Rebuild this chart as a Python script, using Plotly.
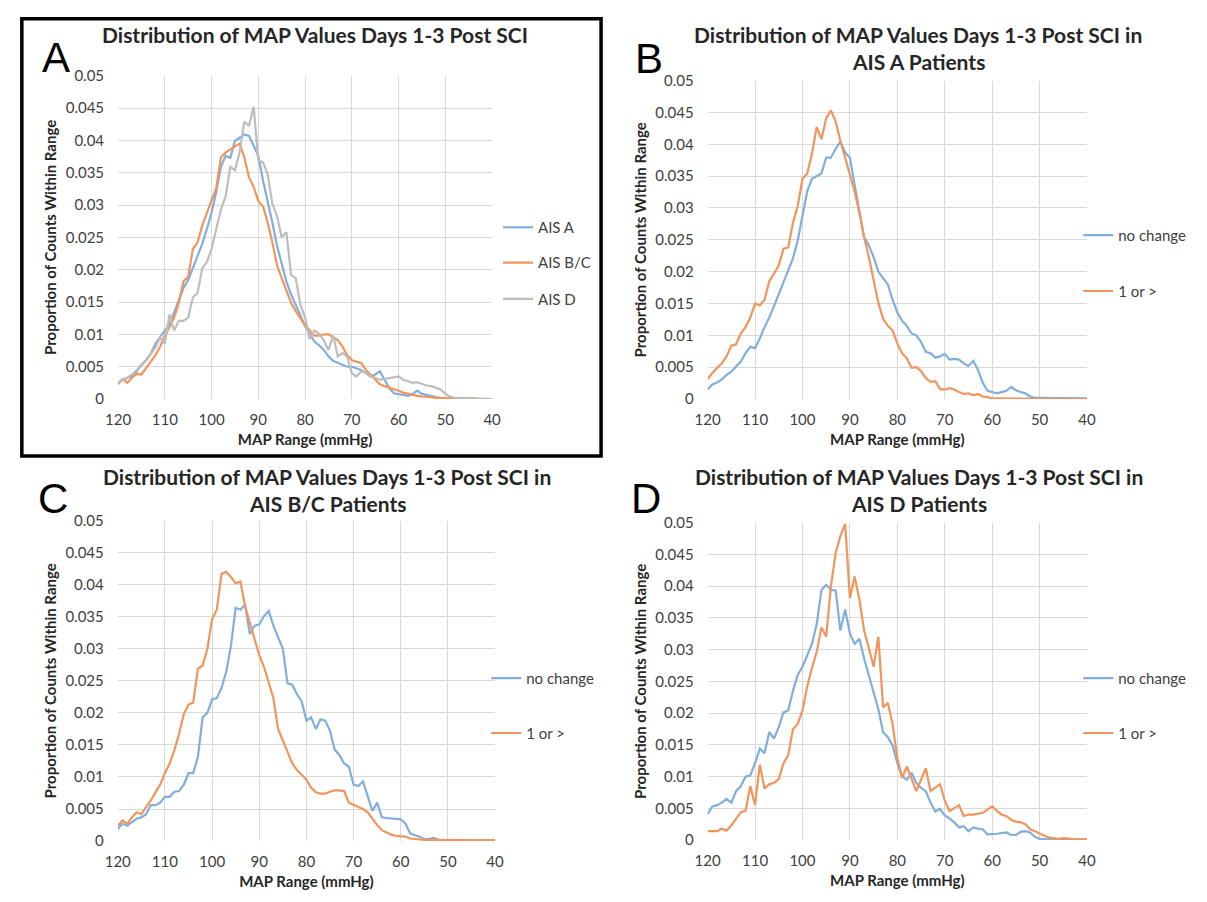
import plotly.graph_objects as go

# ---------------- data (MAP value from 120 down to 40 mmHg, 1 mmHg bins) ----------------
MAP_RANGE = list(range(120, 39, -1))

A_AIS_A = [0.0025, 0.003, 0.0033, 0.0035, 0.0043, 0.0053, 0.006, 0.007, 0.0086, 0.0096,
           0.0106, 0.0116, 0.0134, 0.0154, 0.0172, 0.0184, 0.0202, 0.022, 0.024, 0.0263,
           0.0288, 0.032, 0.0359, 0.0376, 0.0373, 0.0399, 0.0404, 0.0409, 0.0407, 0.0391,
           0.0376, 0.0338, 0.0308, 0.0273, 0.0237, 0.0207, 0.0182, 0.0162, 0.0146, 0.0129,
           0.0113, 0.0101, 0.0089, 0.0083, 0.0076, 0.0066, 0.0059, 0.0056, 0.0053, 0.005,
           0.005, 0.0048, 0.0045, 0.004, 0.0035, 0.0038, 0.0043, 0.003, 0.0017, 0.0009,
           0.0008, 0.0006, 0.0005, 0.0008, 0.0013, 0.0008, 0.0006, 0.0004, 0.0003, 0.0002,
           0.0001, 0.0001, 0.0001, 0.0001, 0.0001, 0.0001, 0.0001, 0.0, 0.0, 0.0, 0.0]
A_AIS_BC = [0.0023, 0.0031, 0.0025, 0.0033, 0.0039, 0.0038, 0.0048, 0.0058, 0.0068, 0.0081,
            0.0098, 0.0111, 0.0126, 0.0149, 0.0182, 0.0189, 0.0232, 0.0242, 0.0268, 0.0288,
            0.0308, 0.0326, 0.0374, 0.0381, 0.0386, 0.039, 0.0395, 0.0374, 0.0343, 0.0328,
            0.0306, 0.0298, 0.0273, 0.0242, 0.0207, 0.0187, 0.0167, 0.0149, 0.0136, 0.0124,
            0.0114, 0.0106, 0.0098, 0.0098, 0.01, 0.01, 0.0096, 0.0091, 0.0081, 0.0068,
            0.006, 0.0058, 0.0056, 0.0045, 0.0038, 0.003, 0.0023, 0.002, 0.0018, 0.0015,
            0.0013, 0.001, 0.0008, 0.0007, 0.0005, 0.0004, 0.0004, 0.0003, 0.0002, 0.0002,
            0.0001, 0.0001, 0.0001, 0.0001, 0.0001, 0.0001, 0.0001, 0.0, 0.0, 0.0, 0.0]
A_AIS_D = [0.0025, 0.003, 0.0033, 0.0038, 0.0045, 0.0053, 0.006, 0.007, 0.008, 0.0095,
           0.0086, 0.0131, 0.0106, 0.0121, 0.0121, 0.0126, 0.0157, 0.0164, 0.0202, 0.0212,
           0.0232, 0.0263, 0.0293, 0.0313, 0.0359, 0.0354, 0.0381, 0.0429, 0.0422, 0.0452,
           0.0369, 0.0366, 0.0348, 0.0302, 0.0283, 0.025, 0.0258, 0.0192, 0.0187, 0.0146,
           0.0126, 0.0093, 0.0106, 0.0101, 0.0091, 0.0076, 0.0098, 0.0066, 0.0071, 0.0066,
           0.004, 0.0035, 0.0043, 0.004, 0.0035, 0.0033, 0.003, 0.0031, 0.0032, 0.0033,
           0.0035, 0.003, 0.0028, 0.0025, 0.0026, 0.0023, 0.0021, 0.002, 0.0018, 0.0015,
           0.0008, 0.0004, 0.0002, 0.0001, 0.0001, 0.0001, 0.0001, 0.0001, 0.0, 0.0, 0.0]

B_NO_CHANGE = [0.0015, 0.0023, 0.0026, 0.0031, 0.0038, 0.0043, 0.0051, 0.0059, 0.0072, 0.0082,
               0.008, 0.0095, 0.0113, 0.0128, 0.0146, 0.0164, 0.0182, 0.0203, 0.0221, 0.0249,
               0.0285, 0.0326, 0.0346, 0.035, 0.0354, 0.0379, 0.0379, 0.0393, 0.0404, 0.0387,
               0.0379, 0.0336, 0.0295, 0.0254, 0.0241, 0.0223, 0.02, 0.019, 0.018, 0.0156,
               0.0136, 0.0123, 0.0115, 0.0103, 0.01, 0.009, 0.0074, 0.0072, 0.0065, 0.0067,
               0.0071, 0.0062, 0.0063, 0.0062, 0.0056, 0.0052, 0.006, 0.0046, 0.0026, 0.0013,
               0.0011, 0.0009, 0.0011, 0.0013, 0.0019, 0.0014, 0.0011, 0.0009, 0.0004, 0.0002,
               0.0002, 0.0002, 0.0002, 0.0001, 0.0001, 0.0001, 0.0001, 0.0001, 0.0001, 0.0001, 0.0001]
B_ONE_OR_MORE = [0.0031, 0.0041, 0.0049, 0.0056, 0.0067, 0.0084, 0.0086, 0.0103, 0.0113, 0.0128,
                 0.015, 0.0147, 0.0156, 0.0185, 0.0197, 0.021, 0.0236, 0.0238, 0.0277, 0.0303,
                 0.0346, 0.0354, 0.0385, 0.0427, 0.0408, 0.0441, 0.0453, 0.0436, 0.0405, 0.0379,
                 0.0356, 0.0326, 0.0292, 0.0254, 0.0223, 0.0187, 0.0151, 0.0126, 0.0115, 0.0108,
                 0.0087, 0.0072, 0.0064, 0.0049, 0.005, 0.0044, 0.0033, 0.0027, 0.0028, 0.0016,
                 0.0015, 0.0017, 0.0015, 0.0011, 0.0008, 0.0009, 0.0006, 0.0008, 0.0004, 0.0003,
                 0.0001, 0.0001, 0.0001, 0.0001, 0.0001, 0.0001, 0.0001, 0.0001, 0.0001, 0.0001,
                 0.0001, 0.0001, 0.0001, 0.0001, 0.0001, 0.0001, 0.0, 0.0, 0.0, 0.0, 0.0]

C_NO_CHANGE = [0.0019, 0.0027, 0.0024, 0.003, 0.0035, 0.0037, 0.0042, 0.0056, 0.0056, 0.006,
               0.0069, 0.0069, 0.0077, 0.0078, 0.0088, 0.0106, 0.0106, 0.0132, 0.0193, 0.02,
               0.0221, 0.0223, 0.0239, 0.0264, 0.0305, 0.0364, 0.0361, 0.0369, 0.0323, 0.0336,
               0.0338, 0.0351, 0.0359, 0.0336, 0.0318, 0.03, 0.0246, 0.0244, 0.0229, 0.0218,
               0.0188, 0.0193, 0.0175, 0.019, 0.0188, 0.0172, 0.0143, 0.0134, 0.0121, 0.0116,
               0.0088, 0.0086, 0.0093, 0.007, 0.0047, 0.006, 0.0037, 0.0036, 0.0035, 0.0035,
               0.0034, 0.0027, 0.0012, 0.0009, 0.0007, 0.0003, 0.0003, 0.0005, 0.0002, 0.0001,
               0.0001, 0.0001, 0.0001, 0.0001, 0.0001, 0.0001, 0.0001, 0.0001, 0.0001, 0.0001, 0.0001]
C_ONE_OR_MORE = [0.0024, 0.0032, 0.0027, 0.0037, 0.0045, 0.0042, 0.0053, 0.0063, 0.0076, 0.0088,
                 0.0106, 0.0121, 0.0142, 0.0167, 0.0198, 0.0213, 0.0216, 0.0269, 0.0274, 0.03,
                 0.0346, 0.0361, 0.0417, 0.042, 0.0412, 0.0402, 0.0405, 0.0366, 0.0341, 0.0315,
                 0.029, 0.0272, 0.0246, 0.0223, 0.0175, 0.0157, 0.014, 0.0121, 0.0111, 0.0104,
                 0.0096, 0.0083, 0.0076, 0.0074, 0.0074, 0.0077, 0.0079, 0.0079, 0.0078, 0.006,
                 0.0056, 0.0053, 0.005, 0.0045, 0.0035, 0.0025, 0.0017, 0.0013, 0.001, 0.0008,
                 0.0007, 0.0007, 0.0004, 0.0003, 0.0002, 0.0002, 0.0002, 0.0002, 0.0002, 0.0002,
                 0.0002, 0.0001, 0.0001, 0.0001, 0.0001, 0.0001, 0.0001, 0.0001, 0.0001, 0.0001, 0.0001]

D_NO_CHANGE = [0.0041, 0.0053, 0.0055, 0.0059, 0.0065, 0.0059, 0.0077, 0.0085, 0.01, 0.0102,
               0.0121, 0.0144, 0.0137, 0.017, 0.016, 0.0178, 0.0201, 0.0204, 0.0235, 0.026,
               0.0273, 0.0291, 0.0309, 0.034, 0.0394, 0.0402, 0.0394, 0.0393, 0.033, 0.0363,
               0.0325, 0.0309, 0.0317, 0.0286, 0.0258, 0.0232, 0.0206, 0.017, 0.0162, 0.0149,
               0.0121, 0.01, 0.0095, 0.0106, 0.009, 0.0082, 0.0077, 0.0059, 0.0045, 0.0049,
               0.0039, 0.0034, 0.0028, 0.002, 0.0022, 0.0014, 0.002, 0.0018, 0.0017, 0.0009,
               0.0009, 0.001, 0.0011, 0.0012, 0.0008, 0.0008, 0.0013, 0.0014, 0.0012, 0.0005,
               0.0002, 0.0001, 0.0001, 0.0001, 0.0001, 0.0001, 0.0001, 0.0001, 0.0001, 0.0001, 0.0001]
D_ONE_OR_MORE = [0.0014, 0.0014, 0.0014, 0.0018, 0.0015, 0.0023, 0.0034, 0.0044, 0.0046, 0.0085,
                 0.0055, 0.0119, 0.0081, 0.0088, 0.009, 0.0096, 0.0121, 0.0134, 0.0175, 0.0183,
                 0.0204, 0.0242, 0.0271, 0.0296, 0.0335, 0.032, 0.04, 0.0452, 0.0479, 0.0498,
                 0.0381, 0.0415, 0.0379, 0.033, 0.0302, 0.0273, 0.032, 0.0209, 0.0216, 0.0183,
                 0.0129, 0.0098, 0.0116, 0.0098, 0.0077, 0.0095, 0.0113, 0.0077, 0.0082, 0.0088,
                 0.0062, 0.0046, 0.005, 0.0055, 0.0038, 0.004, 0.004, 0.0041, 0.0043, 0.0048,
                 0.0053, 0.0046, 0.004, 0.0038, 0.0032, 0.0029, 0.0028, 0.0025, 0.0017, 0.0014,
                 0.001, 0.0007, 0.0004, 0.0003, 0.0002, 0.0003, 0.0002, 0.0002, 0.0001, 0.0001, 0.0001]

TITLES = {
    "A": ["Distribution of MAP Values Days 1-3 Post SCI"],
    "B": ["Distribution of MAP Values Days 1-3 Post SCI in", "AIS A Patients"],
    "C": ["Distribution of MAP Values Days 1-3 Post SCI in", "AIS B/C Patients"],
    "D": ["Distribution of MAP Values Days 1-3 Post SCI in", "AIS D Patients"],
}
X_TITLE = "MAP Range (mmHg)"
Y_TITLE = "Proportion of Counts Within Range"

# ---------------- styling ----------------
W, H = 1207, 902
BLUE = "#80AEDF"
ORANGE = "#F2955C"
GRAY = "#BDBDBD"
TXT = "#404040"
DARK = "#262626"
FONT = "Lato"


def px(x):
    return x / W


def py(y):
    return 1 - y / H


# panel geometry in pixels: plot x0, x1, y_top, y_bottom
PANELS = {
    "A": dict(box=(107, 488, 67, 397), ax="", title_x=308, title_y=[25],
              letter=(44, 48)),
    "B": dict(box=(707.5, 1094, 72, 397), ax="2", title_x=922, title_y=[25, 53],
              letter=(648, 49)),
    "C": dict(box=(106.7, 491, 521, 848), ax="3", title_x=320, title_y=[476, 504],
              letter=(41, 498)),
    "D": dict(box=(707.5, 1094, 523, 847), ax="4", title_x=923, title_y=[476, 504],
              letter=(645, 498)),
}

SERIES = [
    ("A", "AIS A", A_AIS_A, BLUE, 222, 534),
    ("A", "AIS B/C", A_AIS_BC, ORANGE, 258, 534),
    ("A", "AIS D", A_AIS_D, GRAY, 295, 534),
    ("B", "no change", B_NO_CHANGE, BLUE, 230, 1125),
    ("B", "1 or >", B_ONE_OR_MORE, ORANGE, 287, 1125),
    ("C", "no change", C_NO_CHANGE, BLUE, 682, 522),
    ("C", "1 or >", C_ONE_OR_MORE, ORANGE, 738, 522),
    ("D", "no change", D_NO_CHANGE, BLUE, 682, 1125),
    ("D", "1 or >", D_ONE_OR_MORE, ORANGE, 738, 1125),
]

fig = go.Figure()
layout = dict(
    width=W, height=H, autosize=False,
    margin=dict(l=0, r=0, t=0, b=0),
    paper_bgcolor="white", plot_bgcolor="white",
    font=dict(family=FONT, size=15, color=TXT),
    showlegend=True,
)

annotations = []
for key, p in PANELS.items():
    x0, x1, yt, yb = p["box"]
    ax = p["ax"]
    layout["xaxis" + ax] = dict(
        domain=[px(x0), px(x1)], anchor="y" + ax, range=[120, 40], dtick=10, tick0=40,
        showgrid=True, gridcolor="#D9D9D9", gridwidth=1, zeroline=False, showline=False,
        ticks="", ticklabelstandoff=10, tickfont=dict(size=15, color=TXT, family=FONT),
        title=dict(text="<b>" + X_TITLE + "</b>", font=dict(size=15, color=DARK, family=FONT),
                   standoff=7),
        fixedrange=True,
    )
    layout["yaxis" + ax] = dict(
        domain=[py(yb), py(yt)], anchor="x" + ax, range=[0, 0.05], dtick=0.005,
        showgrid=True, gridcolor="#D9D9D9", gridwidth=1, zeroline=False, showline=False,
        ticks="", ticklabelstandoff=13, tickfont=dict(size=15, color=TXT, family=FONT),
        title=dict(text="<b>" + Y_TITLE + "</b>", font=dict(size=15, color=DARK, family=FONT),
                   standoff=5),
        fixedrange=True,
    )
    for line, ty in zip(TITLES[key], p["title_y"]):
        annotations.append(dict(
            text="<b>" + line + "</b>", x=px(p["title_x"]), y=py(ty), xref="paper", yref="paper",
            xanchor="center", yanchor="middle", showarrow=False,
            font=dict(size=21, color=DARK, family=FONT)))
    lx, ly = p["letter"]
    annotations.append(dict(
        text=key, x=px(lx), y=py(ly), xref="paper", yref="paper", xanchor="center",
        yanchor="middle", showarrow=False,
        font=dict(size=42, color="black", family="Liberation Sans")))

for i, (key, name, vals, color, ly, ltext) in enumerate(SERIES):
    ax = PANELS[key]["ax"]
    legend_id = "legend" if i == 0 else "legend%d" % (i + 1)
    fig.add_trace(go.Scatter(
        x=MAP_RANGE, y=vals, mode="lines", name=name,
        line=dict(color=color, width=2.2),
        xaxis="x" + ax, yaxis="y" + ax, legend=legend_id, hoverinfo="x+y+name",
    ))
    layout[legend_id] = dict(
        x=px(ltext - 40), y=py(ly), xanchor="left", yanchor="middle",
        bgcolor="rgba(0,0,0,0)", borderwidth=0, itemwidth=30,
        font=dict(size=15, color=TXT, family=FONT),
    )

# border around panel A
layout["shapes"] = [dict(type="rect", xref="paper", yref="paper",
                         x0=px(9), x1=px(599), y0=py(455), y1=py(9),
                         line=dict(color="black", width=3.5))]
layout["annotations"] = annotations
fig.update_layout(**layout)
fig.write_html("out.html", config={"displayModeBar": False},
               post_script="document.body.style.margin='0';")
